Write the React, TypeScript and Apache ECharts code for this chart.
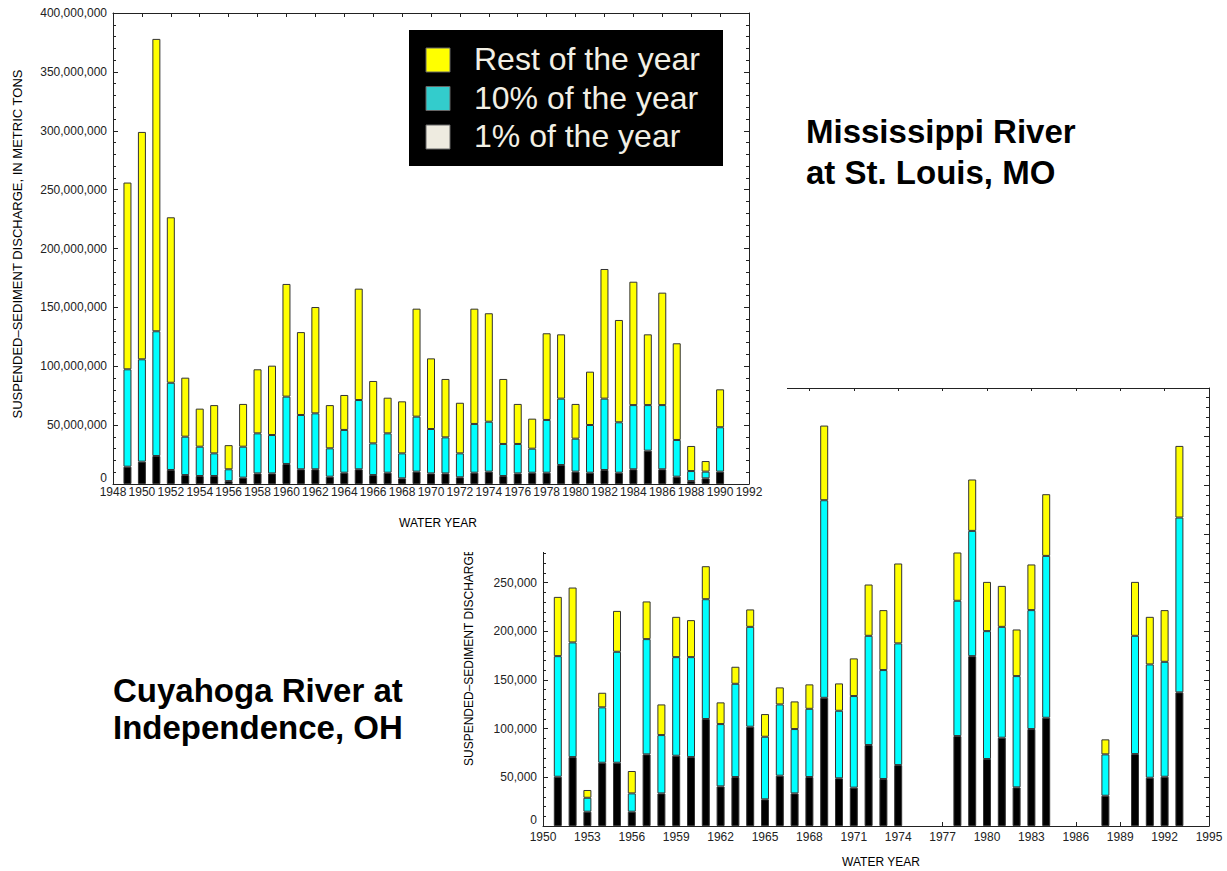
import React, { useEffect, useRef } from 'react';
import * as echarts from 'echarts';

const F = "'Liberation Sans', Arial, Helvetica, sans-serif";

// ---------- Mississippi River at St. Louis, MO (millions of metric tons) ----------
const missCategories = [
  1948, 1949, 1950, 1951, 1952, 1953, 1954, 1955, 1956, 1957, 1958, 1959, 1960, 1961, 1962,
  1963, 1964, 1965, 1966, 1967, 1968, 1969, 1970, 1971, 1972, 1973, 1974, 1975, 1976, 1977,
  1978, 1979, 1980, 1981, 1982, 1983, 1984, 1985, 1986, 1987, 1988, 1989, 1990, 1991, 1992,
];
const missYears = [
  1949, 1950, 1951, 1952, 1953, 1954, 1955, 1956, 1957, 1958, 1959, 1960, 1961, 1962, 1963,
  1964, 1965, 1966, 1967, 1968, 1969, 1970, 1971, 1972, 1973, 1974, 1975, 1976, 1977, 1978,
  1979, 1980, 1981, 1982, 1983, 1984, 1985, 1986, 1987, 1988, 1989, 1990,
];
const missOnePct = [
  14.7, 19, 23.8, 11.9, 7.6, 6.8, 6.8, 2.5, 5.4, 9, 9, 17, 12.5, 12.5, 6.2,
  9.6, 12.5, 7.6, 9.6, 4.8, 10.5, 9, 9, 5.7, 9.6, 10.5, 6.8, 9, 9.6, 9.6,
  16.1, 10.5, 9.6, 11.9, 9.6, 12.5, 28.3, 12.5, 6.2, 2.5, 4.8, 10.5,
];
const missTenPct = [
  82.7, 86.9, 105.9, 74.1, 32.6, 24.9, 19.2, 10, 26.3, 34, 32.6, 57.2, 46.1, 47.5, 24.1,
  36.3, 58.8, 26.9, 33.4, 21.2, 46.7, 37.7, 30.6, 20.3, 41.4, 42.4, 27.2, 25, 20.4, 44.8,
  56.4, 28, 40.5, 60.6, 42.8, 54.5, 38.7, 54.5, 31.2, 8.5, 5.7, 37.7,
];
const missRest = [
  158.6, 193.1, 248.3, 140.5, 50.1, 32.3, 41, 20.5, 36.3, 54.4, 58.9, 95.7, 70.4, 90.3, 36.7,
  29.7, 94.6, 53, 30.3, 44.2, 91.7, 60, 49.6, 43, 97.9, 92.1, 55.2, 34, 25.5, 73.6,
  54.6, 29.5, 45.3, 110.1, 86.9, 104.8, 60.1, 95.5, 82.1, 21.3, 9, 32.2,
];

// ---------- Cuyahoga River at Independence, OH (thousands of metric tons) ----------
const cuyaCategories = [
  1950, 1951, 1952, 1953, 1954, 1955, 1956, 1957, 1958, 1959, 1960, 1961, 1962, 1963, 1964,
  1965, 1966, 1967, 1968, 1969, 1970, 1971, 1972, 1973, 1974, 1975, 1976, 1977, 1978, 1979,
  1980, 1981, 1982, 1983, 1984, 1985, 1986, 1987, 1988, 1989, 1990, 1991, 1992, 1993, 1994, 1995,
];
const cuyaYears = [
  1951, 1952, 1953, 1954, 1955, 1956, 1957, 1958, 1959, 1960, 1961, 1962, 1963, 1964, 1965,
  1966, 1967, 1968, 1969, 1970, 1971, 1972, 1973, 1974, 1978, 1979, 1980, 1981, 1982, 1983,
  1984, 1988, 1990, 1991, 1992, 1993,
];
const cuyaOnePct = [
  50.6, 70.8, 14.7, 65, 65, 14.7, 73.6, 33.5, 72.2, 70.8, 109.9, 40.7, 50.3, 102, 27.4,
  51.7, 33.5, 50.3, 131.7, 49, 39.4, 83.2, 48.3, 62.6, 92.4, 174.5, 68.8, 90.7, 39.7, 99.6,
  111.2, 31.1, 73.9, 49.6, 50.6, 137.3,
];
const cuyaTenPct = [
  123.9, 117.8, 14.3, 56.9, 114, 18.8, 118.4, 59.9, 101.3, 102.7, 123.1, 64, 95.8, 102.6, 64.3,
  73.2, 66.1, 70.1, 203, 69.4, 94.1, 112.2, 111.9, 125, 139, 128.7, 131.4, 113.9, 114.3, 122.2,
  166.3, 42.5, 121.5, 116.4, 118.1, 179.6,
];
const cuyaRest = [
  60.9, 56.4, 8, 15, 42, 23, 38.7, 31.5, 41.4, 38, 33.9, 22.3, 17.5, 17.9, 23.3,
  17.5, 28.4, 25.1, 76.7, 28.1, 38.7, 52.7, 61.6, 82.1, 49.6, 52.8, 50.6, 42.1, 47.9, 46.9,
  63.4, 15.4, 55.4, 48.9, 53.1, 73.6,
];

const seriesNames = ['1% of the year', '10% of the year', 'Rest of the year'];
const barColors = ['#000000', '#00FFFF', '#FFFF00'];
const legendNames = ['Rest of the year', '10% of the year', '1% of the year'];
const legendColors = ['#FFFF00', '#33CCCC', '#EEEBE0'];

const AX = '#222';

function mkX(cats: number[], position: string, labels: boolean, interval: number, margin: number, tickLen: number) {
  return {
    type: 'category',
    data: cats.map(String),
    boundaryGap: false,
    position,
    axisLine: { show: true, onZero: false, lineStyle: { color: AX, width: 1 } },
    axisTick: { show: true, inside: true, interval, length: tickLen, lineStyle: { color: AX } },
    axisLabel: { show: labels, interval, margin, fontSize: 12, color: AX, fontFamily: F },
    splitLine: { show: false },
  };
}

// visibleMax: labels above it are covered in the reference (hidden behind the upper chart)
function mkY(position: string, max: number, labels: boolean, scale: number, visibleMax: number) {
  return {
    type: 'value',
    min: 0,
    max,
    interval: 50,
    position,
    axisLine: { show: true, onZero: false, lineStyle: { color: AX, width: 1 } },
    axisTick: { show: true, inside: true, length: 5, lineStyle: { color: AX } },
    minorTick: { show: true, splitNumber: 5, length: 3, lineStyle: { color: AX } },
    axisLabel: {
      show: labels,
      margin: 6,
      fontSize: 12,
      color: AX,
      fontFamily: F,
      verticalAlignMinLabel: 'bottom',
      formatter: (v: number) => (v > visibleMax ? '' : Math.round(v * scale).toLocaleString('en-US')),
    },
    splitLine: { show: false },
    minorSplitLine: { show: false },
  };
}

function mkSeries(cats: number[], years: number[], parts: number[][]) {
  return parts.map((arr, k) => ({
    type: 'bar',
    name: seriesNames[k],
    stack: 'total',
    barWidth: 8,
    xAxisIndex: 0,
    yAxisIndex: 0,
    itemStyle: { color: barColors[k], borderColor: '#333', borderWidth: 1 },
    data: cats.map((c) => {
      const i = years.indexOf(c);
      return i >= 0 ? arr[i] : null;
    }),
  }));
}

const yName = 'SUSPENDED\u2013SEDIMENT DISCHARGE, IN METRIC TONS';
const yNameCut = 'SUSPENDED\u2013SEDIMENT DISCHARGE';

function txt(text: string, x: number, y: number, size: number, opts: any = {}) {
  return {
    type: 'text',
    x,
    y,
    rotation: opts.rotation || 0,
    z: 100,
    style: {
      text,
      fill: opts.fill || '#000',
      fontSize: size,
      fontWeight: opts.bold ? 'bold' : 'normal',
      fontFamily: opts.family || F,
      align: opts.align || 'left',
      textAlign: opts.align || 'left',
      verticalAlign: 'middle',
      textVerticalAlign: 'middle',
    },
  };
}

export default function App() {
  const topRef = useRef<HTMLDivElement>(null);
  const botRef = useRef<HTMLDivElement>(null);

  useEffect(() => {
    const bot = echarts.init(botRef.current!, null, { renderer: 'svg' });
    bot.setOption({
      animation: false,
      backgroundColor: '#ffffff',
      grid: { left: 543, top: 388, right: 18, bottom: 45 },
      xAxis: [mkX(cuyaCategories, 'bottom', true, 2, 5, 4), mkX(cuyaCategories, 'top', false, 2, 5, 3)],
      yAxis: [mkY('left', 450, true, 1000, 250), mkY('right', 450, false, 1000, 450)],
      series: mkSeries(cuyaCategories, cuyaYears, [cuyaOnePct, cuyaTenPct, cuyaRest]),
      graphic: [
        txt(yNameCut, 469, 766, 12, { rotation: Math.PI / 2, align: 'left' }),
        txt('WATER YEAR', 881, 862, 12, { align: 'center' }),
        txt('Mississippi River', 806, 131, 33, { bold: true, family: 'Arial, sans-serif' }),
        txt('at St. Louis, MO', 806, 172, 33, { bold: true, family: 'Arial, sans-serif' }),
        txt('Cuyahoga River at', 113, 690, 33, { bold: true, family: 'Arial, sans-serif' }),
        txt('Independence, OH', 113, 727, 33, { bold: true, family: 'Arial, sans-serif' }),
      ],
    });

    const top = echarts.init(topRef.current!, null, { renderer: 'svg' });
    const legendEls: any[] = [
      { type: 'rect', shape: { x: 409, y: 30, width: 314, height: 136 }, style: { fill: '#000' }, z: 90 },
    ];
    legendNames.forEach((n, i) => {
      const cy = 60 + i * 38.5;
      legendEls.push({
        type: 'rect',
        shape: { x: 426, y: cy - 12, width: 24, height: 24 },
        style: { fill: legendColors[i], stroke: '#666', lineWidth: 1 },
        z: 95,
      });
      legendEls.push(txt(n, 474, cy - 1, 32, { fill: '#F2EFE4', family: 'Arial, sans-serif' }));
    });
    top.setOption({
      animation: false,
      backgroundColor: '#ffffff',
      grid: { left: 113, top: 13, width: 636, height: 471 },
      xAxis: [mkX(missCategories, 'bottom', true, 1, 2, 4), mkX(missCategories, 'top', false, 1, 1, 4)],
      yAxis: [mkY('left', 400, true, 1000000, 400), mkY('right', 400, false, 1000000, 400)],
      series: mkSeries(missCategories, missYears, [missOnePct, missTenPct, missRest]),
      graphic: [
        txt(yName, 17, 244, 13, { rotation: Math.PI / 2, align: 'center' }),
        txt('WATER YEAR', 438, 523, 12, { align: 'center' }),
        ...legendEls,
      ],
    });

    return () => {
      top.dispose();
      bot.dispose();
    };
  }, []);

  return (
    <div style={{ position: 'absolute', left: 0, top: 0, width: 1227, height: 871, background: '#fff', overflow: 'hidden' }}>
      <div ref={botRef} style={{ position: 'absolute', left: 0, top: 0, width: 1227, height: 871 }} />
      <div ref={topRef} style={{ position: 'absolute', left: 0, top: 0, width: 787, height: 552, background: '#fff', zIndex: 2 }} />
    </div>
  );
}
